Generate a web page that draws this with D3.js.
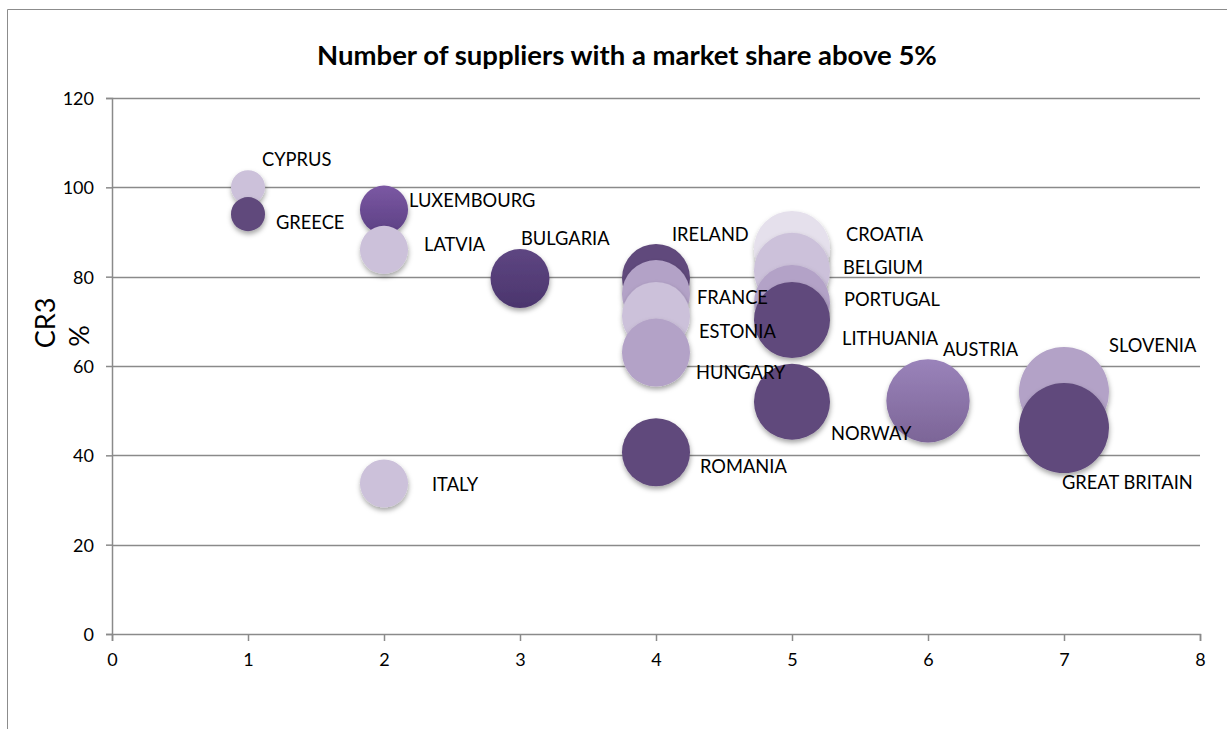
<!DOCTYPE html>
<html>
<head>
<meta charset="utf-8">
<script src="https://cdn.jsdelivr.net/npm/d3@7"></script>
<style>
  html, body { margin: 0; padding: 0; background: #fff; }
  svg { display: block; font-family: Lato, "Open Sans", sans-serif; }
</style>
</head>
<body>
<svg id="chart" width="1227" height="729"></svg>
<script>
// ---- data ----
const countries = ["CYPRUS","GREECE","LUXEMBOURG","LATVIA","BULGARIA","ITALY",
  "IRELAND","FRANCE","ESTONIA","HUNGARY","ROMANIA",
  "CROATIA","BELGIUM","PORTUGAL","LITHUANIA","NORWAY",
  "AUSTRIA","SLOVENIA","GREAT BRITAIN"];
const suppliers = [1,1,2,2,3,2, 4,4,4,4,4, 5,5,5,5,5, 6,7,7];
const cr3 = [100,94,95,86,79.6,33.7, 79.7,76.1,71.2,63,40.7, 86.2,81.3,74.1,70.3,52, 52.2,54.2,46.1];
const bubbleSize = [1,1,2,2,3,2, 4,4,4,4,4, 5,5,5,5,5, 6,7,7];
const xTicks = [0,1,2,3,4,5,6,7,8];
const yTicks = [0,20,40,60,80,100,120];

// ---- styles / layout (not data) ----
const fills = ["#CCC1DA","#604A7B","lux","#CCC1DA","bul","#CCC1DA",
  "#604A7B","#B3A2C7","#CCC1DA","#B3A2C7","#604A7B",
  "#E5E0EC","#CCC1DA","#B3A2C7","#604A7B","#604A7B",
  "aus","#B3A2C7","#604A7B"];
const labelOffsets = [[14,-28],[28,8],[25,-9],[40,-5],[1,-40],[48,1],
  [16,-44],[41,3],[43,15],[40,20],[44,14],
  [54,-15],[51,-3],[52,-4],[50,18],[39,32],
  [15,-51],[45,-46],[-2,54]];

const svg = d3.select("#chart");
const defs = svg.append("defs");
function grad(id, c1, c2) {
  const g = defs.append("linearGradient").attr("id", id)
    .attr("x1",0).attr("y1",0).attr("x2",0).attr("y2",1);
  g.append("stop").attr("offset","0%").attr("stop-color",c1);
  g.append("stop").attr("offset","100%").attr("stop-color",c2);
}
grad("lux", "#7B58A3", "#5C4084");
grad("bul", "#5E4682", "#4B356D");
grad("aus", "#9A83BA", "#7C6597");
const f = defs.append("filter").attr("id","shadow")
  .attr("x","-30%").attr("y","-30%").attr("width","160%").attr("height","170%");
f.append("feDropShadow").attr("dx",0.5).attr("dy",3).attr("stdDeviation",2.5)
  .attr("flood-color","#000").attr("flood-opacity",0.35);

// frame
svg.append("path").attr("d","M7.5,729 V9.5 H1227")
  .attr("fill","none").attr("stroke","#8c8c8c").attr("stroke-width",1);

const x = d3.scaleLinear().domain([0,8]).range([112,1200]);
const y = d3.scaleLinear().domain([0,120]).range([634,98]);
const r = d3.scaleSqrt().domain([0,7]).range([0,45]);

// gridlines
svg.append("g").selectAll("line").data(yTicks.filter(d=>d>0)).join("line")
  .attr("x1",x(0)).attr("x2",x(8))
  .attr("y1",d=>Math.round(y(d))+0.5).attr("y2",d=>Math.round(y(d))+0.5)
  .attr("stroke","#8a8a8a").attr("stroke-width",1.3);

// axes
const yAxis = d3.axisLeft(y).tickValues(yTicks).tickSize(6).tickPadding(12);
const gy = svg.append("g").attr("transform",`translate(${x(0)},0)`).call(yAxis);
const xAxis = d3.axisBottom(x).tickValues(xTicks).tickSize(7).tickPadding(12);
const gx = svg.append("g").attr("transform",`translate(0,${y(0)})`).call(xAxis);
[gx, gy].forEach(g => {
  g.select(".domain").attr("stroke","#8a8a8a").attr("stroke-width",1.5);
  g.selectAll(".tick line").attr("stroke","#8a8a8a").attr("stroke-width",1.5);
  g.selectAll("text").attr("font-family","Lato, sans-serif").attr("font-size",18).attr("fill","#000");
});
gy.selectAll(".tick text").attr("dy","0.36em");

// bubbles
const idx = d3.range(countries.length);
svg.append("g").selectAll("circle").data(idx).join("circle")
  .attr("cx", i => x(suppliers[i]))
  .attr("cy", i => y(cr3[i]))
  .attr("r", i => r(bubbleSize[i]))
  .attr("fill", i => fills[i].startsWith("#") ? fills[i] : `url(#${fills[i]})`)
  .attr("filter","url(#shadow)");

// labels
svg.append("g").selectAll("text").data(idx).join("text")
  .attr("x", i => x(suppliers[i]) + labelOffsets[i][0])
  .attr("y", i => y(cr3[i]) + labelOffsets[i][1])
  .attr("dy","0.36em")
  .attr("font-size",18.3)
  .attr("fill","#000")
  .text(i => countries[i]);

// title
svg.append("text").attr("x",627).attr("y",55).attr("dy","0.35em")
  .attr("text-anchor","middle").attr("font-weight","bold").attr("font-size",27.5)
  .text("Number of suppliers with a market share above 5%");

// y axis title
svg.append("text").attr("transform","translate(45,323) rotate(-90)")
  .attr("text-anchor","middle").attr("dy","0.36em").attr("font-size",27).text("CR3");
svg.append("text").attr("transform","translate(79,336) rotate(-90)")
  .attr("text-anchor","middle").attr("dy","0.36em").attr("font-size",27).text("%");
</script>
</body>
</html>
